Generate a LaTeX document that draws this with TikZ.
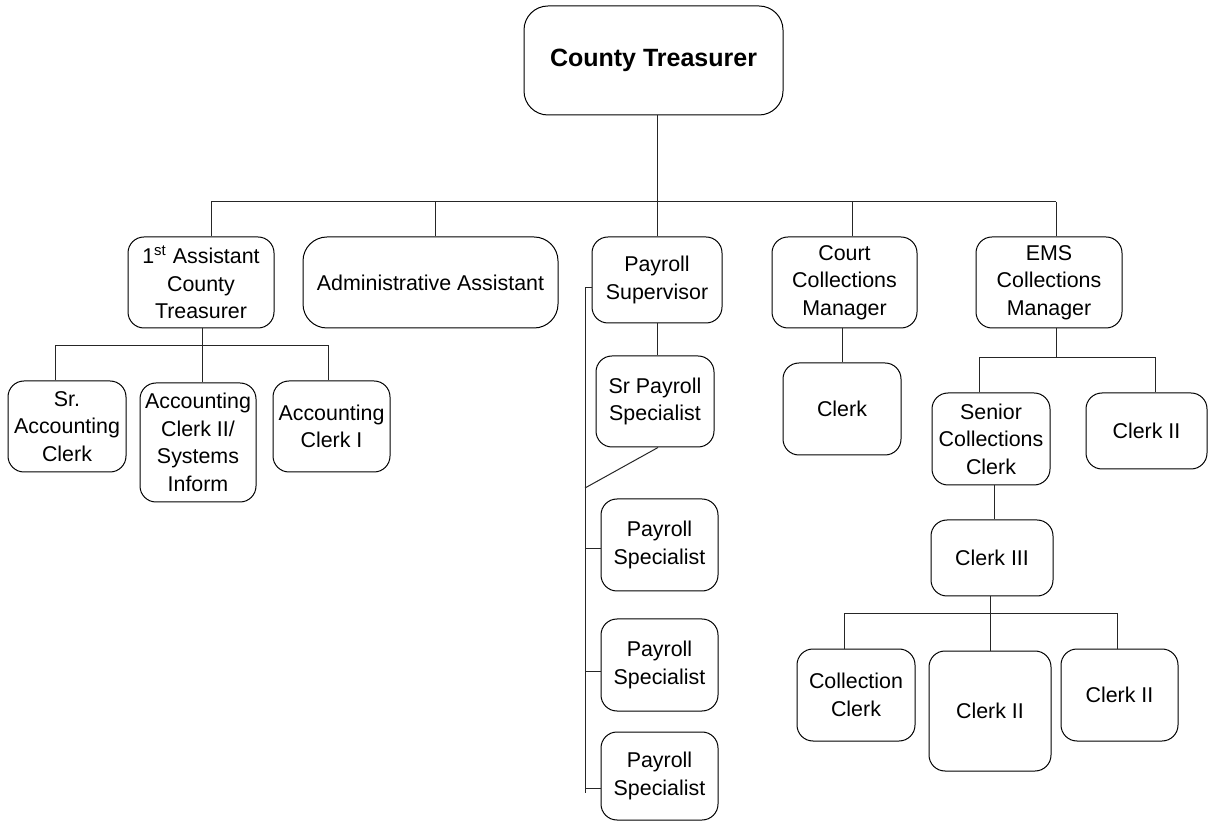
\documentclass[tikz,border=0pt]{standalone}
\usepackage{fontspec}
\setmainfont{Liberation Sans}
\tikzset{
  box/.style 2 args={draw, rounded corners=8pt, align=center, inner sep=0pt,
    minimum width=#1*0.5pt, minimum height=#2*0.5pt,
    font=\fontsize{10.7}{13.75}\selectfont},
  link/.style={draw, black!85, line width=0.5pt},
}

\begin{document}
\begin{tikzpicture}[x=0.5pt,y=-0.5pt,line width=0.5pt]
            \useasboundingbox (0,0) rectangle (1209,822);
            % top
            \node[box={259}{109},rounded corners=12pt,font=\bfseries\fontsize{12.5}{15}\selectfont] (ct) at (653.5,60.5) {County Treasurer};
            % first level
            \node[box={146}{91}] (ast) at (201,282.5) {1\textsuperscript{st} Assistant\\County\\Treasurer};
            \node[box={255}{91},rounded corners=12pt] (adm) at (430.5,282.5) {Administrative Assistant};
            \node[box={130}{86}] (pay) at (657,280) {Payroll\\Supervisor};
            \node[box={145}{91}] (court) at (844.5,282.5) {Court\\Collections\\Manager};
            \node[box={146}{91}] (ems) at (1049,282.5) {EMS\\Collections\\Manager};
            % accounting
            \node[box={118}{91}] (sac) at (67,426.5) {Sr.\\Accounting\\Clerk};
            \node[box={116}{119}] (ac2) at (198,442.5) {Accounting\\Clerk II/\\Systems\\Inform};
            \node[box={117}{91}] (ac1) at (331.5,426.5) {Accounting\\Clerk I};
            % payroll
            \node[box={118}{91}] (spay) at (655,401.5) {Sr Payroll\\Specialist};
            \node[box={117}{92}] (ps1) at (659.5,545) {Payroll\\Specialist};
            \node[box={117}{92}] (ps2) at (659.5,665) {Payroll\\Specialist};
            \node[box={117}{88}] (ps3) at (659.5,776) {Payroll\\Specialist};
            % collections
            \node[box={118}{92}] (clk) at (842,409) {Clerk};
            \node[box={118}{92}] (scc) at (991,439) {Senior\\Collections\\Clerk};
            \node[box={121}{76}] (ec2) at (1146.5,431) {Clerk II};
            \node[box={122}{76}] (c3) at (992,558) {Clerk III};
            \node[box={118}{92}] (cc) at (856,695) {Collection\\Clerk};
            \node[box={122}{120}] (c2a) at (990,711) {Clerk II};
            \node[box={117}{92}] (c2b) at (1119.5,695) {Clerk II};

            % main bus
            \draw[link] (pay.north |- ct.south) -- (pay.north);
            \coordinate (bl) at (211,202);
            \coordinate (br) at (1056,202);
            \draw[link] (bl) -- (br);
            \foreach \x/\n in {211/ast,435/adm,852/court,1056/ems}{
                \coordinate (d) at (\x,202);
                \draw[link] (d) -- (d |- \n.north);
            }
            % under 1st assistant
            \coordinate (al) at (55,346);
            \coordinate (am) at (202,346);
            \coordinate (ar) at (328,346);
            \draw[link] (al |- sac.north) -- (al) -- (ar) -- (ar |- ac1.north);
            \draw[link] (am |- ast.south) -- (am |- ac2.north);
            % payroll bracket
            \draw[link] (pay.south) -- (pay.south |- spay.north);
            \coordinate (pt) at (585,288);
            \coordinate (pb) at (585,793);
            \coordinate (pd) at (585,488);
            \draw[link] (pay.west |- pt) -- (pt) -- (pb);
            \draw[link] ([xshift=1.5pt]spay.south) -- (pd);
            \foreach \y/\n in {549/ps1,671/ps2,788/ps3}{
                \coordinate (t) at (585,\y);
                \draw[link] (t) -- (t -| \n.west);
            }
            % court collections
            \draw[link] (court.south -| clk.north) -- (clk.north);
            % ems collections
            \coordinate (e) at (1056,358);
            \coordinate (el) at (979,358);
            \coordinate (er) at (1155,358);
            \draw[link] (e |- ems.south) -- (e);
            \draw[link] (el |- scc.north) -- (el) -- (er) -- (er |- ec2.north);
            \draw[link] ([xshift=1.5pt]scc.south) -- ([xshift=1.5pt]scc.south |- c3.north);
            \coordinate (cl) at (844,614);
            \coordinate (cr) at (1117,614);
            \draw[link] (c3.south -| c2a.north) -- (c2a.north);
            \draw[link] (cl |- cc.north) -- (cl) -- (cr) -- (cr |- c2b.north);
        \end{tikzpicture}
\end{document}
